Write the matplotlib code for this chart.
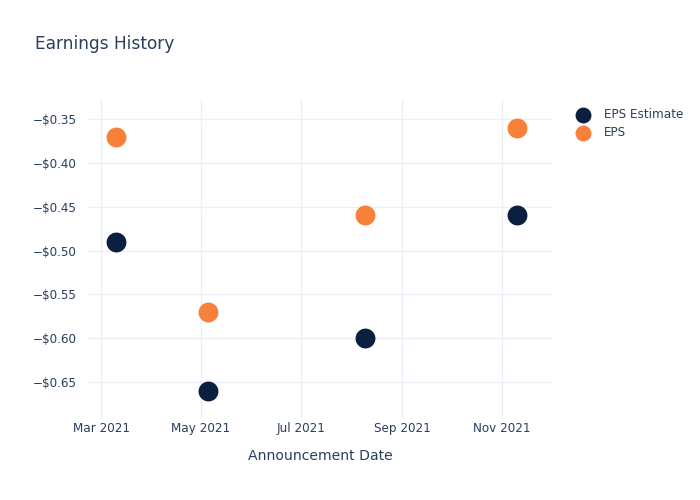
import matplotlib
matplotlib.use('Agg')
import matplotlib.pyplot as plt
import matplotlib.dates as mdates
from matplotlib.ticker import FuncFormatter
import numpy as np

dates = np.array(['2021-03-10', '2021-05-05', '2021-08-09', '2021-11-10'], dtype='datetime64[D]')
eps_estimate = [-0.49, -0.66, -0.60, -0.46]
eps_actual = [-0.37, -0.57, -0.46, -0.36]

TEXT = '#2a3f5f'
GRID = '#ebf0f8'
NAVY = '#0b1f41'
ORANGE = '#f7813a'
PX = 0.72  # px -> pt at dpi 100

fig = plt.figure(figsize=(7, 5), dpi=100)
ax = fig.add_axes([88 / 700, (500 - 418) / 500, (553 - 88) / 700, (418 - 100) / 500])

ax.scatter(dates, eps_estimate, s=205, color=NAVY, label='EPS Estimate', zorder=3, linewidths=0)
ax.scatter(dates, eps_actual, s=205, color=ORANGE, label='EPS', zorder=3, linewidths=0)

ax.set_xlim(np.datetime64('2021-02-21'), np.datetime64('2021-12-02'))
ax.set_ylim(-0.691, -0.3283)

ax.xaxis.set_major_locator(mdates.MonthLocator(bymonth=[3, 5, 7, 9, 11]))
ax.xaxis.set_major_formatter(mdates.DateFormatter('%b %Y'))
ax.set_yticks([-0.35, -0.40, -0.45, -0.50, -0.55, -0.60, -0.65])
ax.yaxis.set_major_formatter(FuncFormatter(lambda v, p: f'\u2212${abs(v):.2f}'))

ax.grid(True, color=GRID, linewidth=1)
ax.set_axisbelow(True)
for s in ax.spines.values():
    s.set_visible(False)
ax.tick_params(length=0, labelsize=12 * PX, labelcolor=TEXT, pad=8)
ax.tick_params(axis='x', pad=3)

ax.set_xlabel('Announcement Date', fontsize=14 * PX, color=TEXT, labelpad=10)
fig.text(35 / 700, 1 - 44 / 500, 'Earnings History', fontsize=17 * PX, color=TEXT, va='center', ha='left')

leg = ax.legend(loc='upper left', bbox_to_anchor=(1.029, 0.99), frameon=False,
                fontsize=12 * PX, labelcolor=TEXT, handletextpad=0.7,
                borderaxespad=0, labelspacing=0.45, markerscale=0.8)

fig.savefig('out.png', dpi=100)
